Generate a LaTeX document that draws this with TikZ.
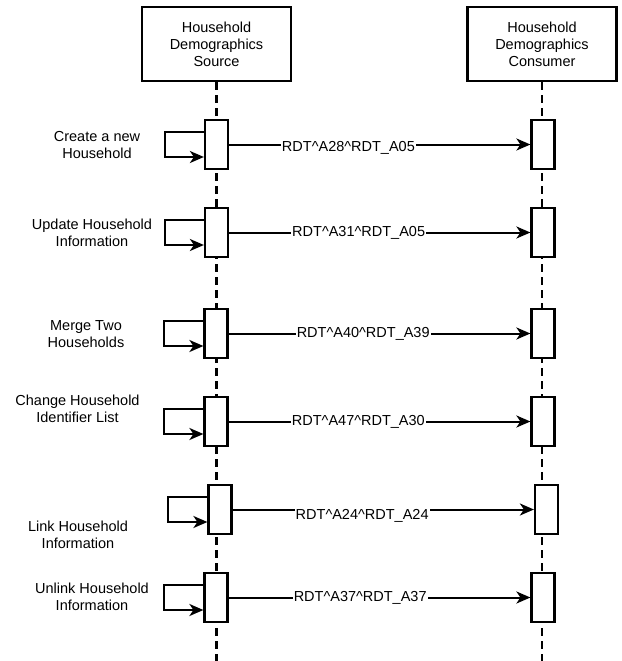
\documentclass[tikz,border=0pt]{standalone}
\usepackage{fontspec}
\setmainfont{Liberation Sans}
\usetikzlibrary{arrows.meta,positioning}

\begin{document}
\begin{tikzpicture}[x=1pt, y=-1pt, >={Stealth[length=14pt,width=12pt,inset=4pt]},
                    line width=2pt, text centered,
                    font=\fontsize{14.5}{17}\selectfont]
    \tikzstyle{actor} = [rectangle, minimum width=149pt, minimum height=74pt,
                         draw=black, line width=2.2pt, align=center, inner sep=0pt]
    \tikzstyle{activation} = [rectangle, minimum width=23pt, minimum height=49pt,
                              draw=black, fill=white, line width=2.2pt, inner sep=0pt]
    \tikzstyle{lifeline} = [line width=2.4pt, dash pattern=on 8pt off 5pt]
    \tikzstyle{msg} = [fill=white, inner sep=1pt]
    \tikzstyle{action} = [align=center, inner sep=0pt]

    \useasboundingbox (0,0) rectangle (621,661);

    % participants and lifelines
    \node (src) [actor] at (216.5,44) {Household\\Demographics\\Source};
    \node (dst) [actor] at (542,44) {Household\\Demographics\\Consumer};
    \coordinate (srcEnd) at (216.5,661);
    \coordinate (dstEnd) at (542,661);
    \draw [lifeline] (src) -- (srcEnd);
    \draw [lifeline] (dst) -- (dstEnd);

    % activation boxes
    \node (src1) [activation] at (216.5,144.5) {};
    \node (src2) [activation] at (216.5,232.5) {};
    \node (src3) [activation] at (216,333.5) {};
    \node (src4) [activation] at (216,421.5) {};
    \node (src5) [activation] at (220,509.5) {};
    \node (src6) [activation] at (216,597.5) {};
    \node (dst1) [activation] at (543,144.5) {};
    \node (dst2) [activation] at (543,232.5) {};
    \node (dst3) [activation] at (543,333.5) {};
    \node (dst4) [activation] at (543,421.5) {};
    \node (dst5) [activation] at (546.5,509.5) {};
    \node (dst6) [activation] at (543,597.5) {};

    % actions
    \node (act1) [action] at (97,145) {Create a new\\Household};
    \node (act2) [action] at (92,233) {Update Household\\Information};
    \node (act3) [action] at (86,334) {Merge Two\\Households};
    \node (act4) [action] at (77.5,409) {Change Household\\Identifier List};
    \node (act5) [action] at (78,535) {Link Household\\Information};
    \node (act6) [action] at (92,597) {Unlink Household\\Information};

    % self calls
    \draw [->] ([yshift=12.5pt] src1.west) -- ++(-39,0) |- ([yshift=-12.5pt] src1.west);
    \draw [->] ([yshift=12.5pt] src2.west) -- ++(-39,0) |- ([yshift=-12.5pt] src2.west);
    \draw [->] ([yshift=12.5pt] src3.west) -- ++(-39,0) |- ([yshift=-12.5pt] src3.west);
    \draw [->] ([yshift=12.5pt] src4.west) -- ++(-39,0) |- ([yshift=-12.5pt] src4.west);
    \draw [->] ([yshift=12.5pt] src5.west) -- ++(-39,0) |- ([yshift=-12.5pt] src5.west);
    \draw [->] ([yshift=12.5pt] src6.west) -- ++(-39,0) |- ([yshift=-12.5pt] src6.west);

    % messages
    \draw [->] (src1) -- node[msg, pos=.396, yshift=-3pt] {RDT\textasciicircum A28\textasciicircum RDT\_A05} (dst1);
    \draw [->] (src2) -- node[msg, pos=.43] {RDT\textasciicircum A31\textasciicircum RDT\_A05} (dst2);
    \draw [->] (src3) -- node[msg, pos=.446] {RDT\textasciicircum A40\textasciicircum RDT\_A39} (dst3);
    \draw [->] (src4) -- node[msg, pos=.43] {RDT\textasciicircum A47\textasciicircum RDT\_A30} (dst4);
    \draw [->] (src5) -- node[msg, pos=.43, yshift=-6pt] {RDT\textasciicircum A24\textasciicircum RDT\_A24} (dst5);
    \draw [->] (src6) -- node[msg, pos=.436] {RDT\textasciicircum A37\textasciicircum RDT\_A37} (dst6);
\end{tikzpicture}
\end{document}
